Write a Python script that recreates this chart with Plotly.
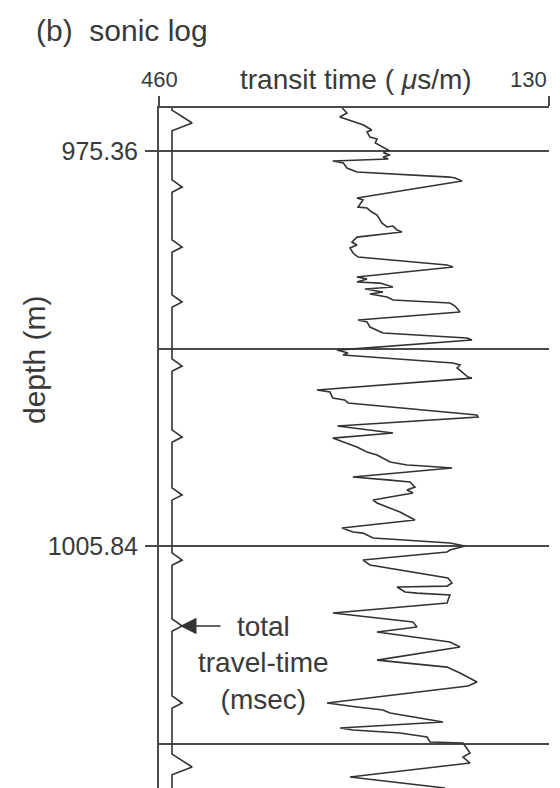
import plotly.graph_objects as go

# ---- data ----
depth_m = [972.04, 972.43, 972.74, 973.12, 973.35, 973.74, 973.89, 974.28, 974.43, 974.74,
           975.05, 975.28, 975.51, 975.67, 975.82, 975.98, 976.13, 976.29, 976.67, 976.98,
           977.37, 977.44, 977.67, 978.99, 979.14, 979.68, 979.76, 980.07, 980.30, 980.68,
           980.92, 981.22, 981.15, 981.46, 981.61, 981.69, 982.00, 982.38, 982.61, 982.84,
           983.23, 983.54, 984.16, 984.31, 985.08, 985.24, 985.47, 985.55, 985.85, 986.01,
           986.24, 986.39, 986.63, 986.86, 987.09, 987.32, 987.78, 988.40, 988.55, 988.94,
           989.17, 989.40, 989.79, 989.94, 990.72, 990.95, 991.10, 991.72, 991.87, 992.10,
           992.80, 992.88, 993.80, 993.96, 994.42, 994.57, 994.80, 995.73, 995.89, 996.58,
           997.12, 997.51, 997.81, 998.20, 998.59, 998.82, 999.36, 999.59, 999.65, 999.82,
           1000.51, 1000.59, 1000.65, 1000.75, 1000.90, 1001.29, 1001.52, 1001.75, 1002.29, 1002.52,
           1003.22, 1003.83, 1004.45, 1004.76, 1004.84, 1005.22, 1005.61, 1005.84, 1006.15, 1006.30,
           1006.92, 1007.30, 1008.31, 1008.46, 1008.69, 1008.93, 1009.00, 1009.39, 1009.47, 1009.62,
           1010.16, 1010.24, 1011.01, 1011.70, 1012.09, 1012.47, 1013.25, 1013.63, 1014.64, 1015.18,
           1015.64, 1016.33, 1016.64, 1017.95, 1018.26, 1018.49, 1018.72, 1019.42, 1019.88, 1020.04,
           1020.27, 1020.58, 1020.96, 1021.04, 1021.81, 1022.12, 1022.58, 1023.66, 1024.51]
transit_us_per_m = [305, 301, 307, 294, 287, 280, 284, 281.5, 275.5, 277,
                    270.5, 266, 270, 264.5, 270.5, 266, 313, 304, 301, 292.5,
                    214, 209.5, 203.6, 292.5, 287.4, 291.6, 284, 280, 275.5, 273,
                    271.3, 267, 262, 258.6, 254.4, 262, 292.5, 296.7, 292.5, 298.4,
                    295.8, 291.6, 216.3, 211.2, 292.5, 284, 292.5, 273, 262, 285.7,
                    270.5, 281.5, 267, 262, 213.8, 209.5, 205.3, 291.6, 284, 281.5,
                    275.5, 270.5, 199.4, 195.2, 309.4, 300.1, 304.3, 211.2, 205.3, 207.8,
                    198.5, 195.2, 326.3, 315.3, 313, 303, 300, 191, 190, 309,
                    262, 313, 304, 292.5, 284, 275.5, 264.5, 250, 239, 212,
                    296, 284, 279, 264.5, 247.6, 243.4, 250.2, 245.1, 278.9, 275.5,
                    256.1, 243.4, 305.2, 295.8, 287.4, 278.9, 213.8, 201.1, 213.8, 216.3,
                    287.4, 281.5, 215.5, 213.8, 212.1, 216.3, 258.6, 251.8, 241.7, 213.8,
                    215.5, 216.3, 312.8, 245.1, 241.7, 275.5, 213.8, 205.3, 275.5, 216.3,
                    205.3, 190.9, 198.5, 317.8, 292.5, 270.5, 264.5, 219.7, 306.8, 295.8,
                    256.1, 233.2, 230.7, 202.8, 196.8, 202.8, 196.8, 298.4, 218]

# total travel-time marks (depths of the pips, major = every 10th)
pip_depths = [973.20, 978.14, 982.77, 987.01, 991.95, 997.43, 1001.90, 1006.92,
              1012.01, 1017.95, 1022.89]
pip_major = [True, False, False, False, False, False, False, False, False, False, True]

grid_depths = [975.36, 990.60, 1005.84, 1021.08]
labeled_depths = [975.36, 1005.84]
depth_tick_text = ["975.36", "1005.84"]
transit_ticks = [460, 130]
transit_tick_text = ["460", "130"]
depth_range = [1024.51, 972.04]

# ---- styling constants ----
INK = "#3a3a3a"
LINE = "#4a4a4a"
FONT = "Liberation Sans, Arial, Helvetica, sans-serif"
TRACK_BASE = 1.0
PIP_AMP = {True: 1.55, False: 0.78}
PIP_UP = {True: 1.0, False: 0.55}
PIP_DOWN = {True: 0.6, False: 0.4}

# build the travel-time track path from the pip list
tx, ty = [TRACK_BASE], [depth_range[1]]
for d, major in zip(pip_depths, pip_major):
    tx += [TRACK_BASE, TRACK_BASE + PIP_AMP[major], TRACK_BASE]
    ty += [d - PIP_UP[major], d, d + PIP_DOWN[major]]
tx.append(TRACK_BASE)
ty.append(depth_range[0])

fig = go.Figure()
fig.add_trace(go.Scatter(x=transit_us_per_m, y=depth_m, mode="lines",
                         line=dict(color="#333333", width=1.6), xaxis="x", yaxis="y",
                         showlegend=False, hoverinfo="skip"))
fig.add_trace(go.Scatter(x=tx, y=ty, mode="lines",
                         line=dict(color="#333333", width=1.6), xaxis="x2", yaxis="y",
                         showlegend=False, hoverinfo="skip"))

# page body has an 8px margin, so the figure is 8px smaller and margins shifted
fig.update_layout(
    width=552, height=780,
    margin=dict(l=151, r=11, t=100, b=0, pad=0),
    paper_bgcolor="white", plot_bgcolor="white",
    font=dict(family=FONT, color=INK),
    xaxis=dict(range=[transit_ticks[0], transit_ticks[1]], side="top", showline=True,
               linecolor=LINE, linewidth=2, tickvals=transit_ticks, ticks="outside",
               ticklen=10, tickwidth=2, tickcolor=LINE, showticklabels=False,
               showgrid=False, zeroline=False),
    xaxis2=dict(range=[0, 30], overlaying="x", visible=False),
    yaxis=dict(range=depth_range, showline=True, linecolor=LINE, linewidth=2,
               tickvals=labeled_depths, ticktext=depth_tick_text, ticks="outside",
               ticklen=12, tickwidth=2, tickcolor=LINE, ticklabelstandoff=2,
               tickfont=dict(size=25, color=INK, family=FONT),
               showgrid=True, gridcolor=LINE, gridwidth=2, zeroline=False,
               minor=dict(tickvals=[g for g in grid_depths if g not in labeled_depths],
                          showgrid=True, gridcolor=LINE, gridwidth=2, ticks="")),
)

ann = []
ann.append(dict(x=transit_ticks[0], xref="x", y=1.0412, yref="paper", text=transit_tick_text[0],
                showarrow=False, xanchor="center", yanchor="middle", font=dict(size=22)))
ann.append(dict(x=transit_ticks[1], xref="x", y=1.0412, yref="paper", text=transit_tick_text[1],
                showarrow=False, xanchor="right", yanchor="middle", font=dict(size=22)))
ann.append(dict(x=0.5051, xref="paper", y=1.0412, yref="paper",
                text="transit time ( <i>\u03bc</i>s/m)", showarrow=False,
                xanchor="center", yanchor="middle", font=dict(size=28)))
ann.append(dict(x=-0.3205, xref="paper", y=1.1147, yref="paper",
                text="(b)\u00a0 sonic log", showarrow=False,
                xanchor="left", yanchor="middle", font=dict(size=30)))
ann.append(dict(x=-0.3205, xref="paper", y=0.6294, yref="paper", text="depth (m)",
                textangle=-90, showarrow=False, xanchor="center", yanchor="middle",
                font=dict(size=30)))
ann.append(dict(x=0.2692, xref="paper", y=0.1838, yref="paper",
                text="total<br>travel-time<br>(msec)", showarrow=False,
                xanchor="center", yanchor="middle", align="center", font=dict(size=28)))
ann.append(dict(x=0.0538, xref="paper", y=0.2382, yref="paper", text="",
                showarrow=True, ax=42, ay=0, arrowhead=2, arrowsize=2.2,
                arrowwidth=1.5, arrowcolor="#333333", standoff=0))
fig.update_layout(annotations=ann)

fig.write_html("out.html")
